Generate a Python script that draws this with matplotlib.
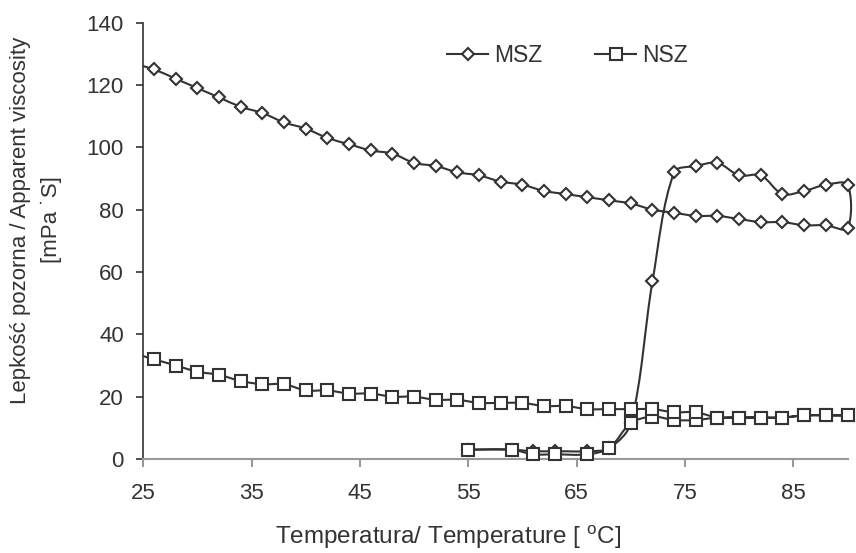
import numpy as np
import matplotlib
matplotlib.use("Agg")
import matplotlib.pyplot as plt
from matplotlib.path import Path
from matplotlib.patches import PathPatch
from matplotlib.lines import Line2D
from matplotlib.transforms import Bbox, TransformedBbox

plt.rcParams['font.family'] = ['Liberation Sans', 'DejaVu Sans']
plt.rcParams['mathtext.fontset'] = 'custom'
plt.rcParams['mathtext.rm'] = 'Liberation Sans'
plt.rcParams['mathtext.it'] = 'Liberation Sans:italic'

# ---- data ----
temp_heat = [55, 59, 61, 63, 66, 68, 70, 72, 74, 76, 78, 80, 82, 84, 86, 88, 90]
msz_heat = [3, 3, 2.5, 2.5, 2.5, 3.5, 11.5, 57, 92, 94, 95, 91, 91, 85, 86, 88, 88]
nsz_heat = [3, 3, 1.5, 1.5, 1.5, 3.5, 11.5, 13.6, 12.5, 12.5, 13.3, 13.3, 13.3, 13.3, 14, 14, 14]

temp_cool = [90, 88, 86, 84, 82, 80, 78, 76, 74, 72, 70, 68, 66, 64, 62, 60, 58,
             56, 54, 52, 50, 48, 46, 44, 42, 40, 38, 36, 34, 32, 30, 28, 26, 24]
msz_cool = [74, 75, 75, 76, 76, 77, 78, 78, 79, 80, 82, 83, 84, 85, 86, 88, 89,
            91, 92, 94, 95, 98, 99, 101, 103, 106, 108, 111, 113, 116, 119, 122, 125, 127]
nsz_cool = [14, 14, 14, 13.3, 13.3, 13.3, 13.3, 15, 15, 16, 16, 16, 16, 17, 17, 18, 18,
            18, 19, 19, 20, 20, 21, 21, 22, 22, 24, 24, 25, 27, 28, 30, 32, 34]

series_names = ['MSZ', 'NSZ']
x_ticks = [25, 35, 45, 55, 65, 75, 85]
y_ticks = [0, 20, 40, 60, 80, 100, 120, 140]

DARK = '#333333'
GRAY = '#999999'


def smooth_path(ax, xs, ys):
    """Excel-like smoothed line: cubic Bezier with chord-length scaled tangents."""
    data_pts = np.column_stack([xs, ys]).astype(float)
    pts = ax.transData.transform(data_pts)
    inv = ax.transData.inverted()
    n = len(pts)
    verts = [data_pts[0]]
    codes = [Path.MOVETO]

    def d(a, b):
        return float(np.hypot(*(b - a)))

    for i in range(n - 1):
        p0 = pts[i - 1] if i > 0 else pts[i]
        p1 = pts[i]
        p2 = pts[i + 1]
        p3 = pts[i + 2] if i + 2 < n else pts[i + 1]
        l01, l12, l23 = d(p0, p1), d(p1, p2), d(p2, p3)
        f1 = l12 / (l01 + l12) / 3.0 if (l01 + l12) > 0 else 0.0
        f2 = l12 / (l12 + l23) / 3.0 if (l12 + l23) > 0 else 0.0
        c1 = p1 + (p2 - p0) * f1
        c2 = p2 - (p3 - p1) * f2
        verts += list(inv.transform(np.array([c1, c2]))) + [data_pts[i + 1]]
        codes += [Path.CURVE4] * 3
    return Path(np.array(verts), codes)


fig = plt.figure(figsize=(8.56, 5.53), dpi=100)
ax = fig.add_axes([143.3 / 856, 1 - 459 / 553, (847.5 - 143.3) / 856, (459 - 22.7) / 553])
ax.set_xlim(25, 90)
ax.set_ylim(0, 140)

clip = TransformedBbox(Bbox([[25, -10], [95, 150]]), ax.transData)

markers = {'MSZ': ('D', 6.6), 'NSZ': ('s', 8.8)}
data = {
    'MSZ': (temp_heat + temp_cool, msz_heat + msz_cool),
    'NSZ': (temp_heat + temp_cool, nsz_heat + nsz_cool),
}

for k, name in enumerate(series_names):
    xs, ys = data[name]
    patch = PathPatch(smooth_path(ax, xs, ys), fill=False, edgecolor=DARK, lw=1.5,
                      zorder=2 + 2 * k)
    ax.add_patch(patch)
    patch.set_clip_box(clip)
    xs_a = np.array(xs)
    ys_a = np.array(ys)
    m = xs_a >= 25
    mk, ms = markers[name]
    ax.plot(xs_a[m], ys_a[m], linestyle='none', marker=mk, ms=ms, mfc='white',
            mec=DARK, mew=1.5, clip_on=False, zorder=3 + 2 * k)

for s in ['top', 'right']:
    ax.spines[s].set_visible(False)
ax.spines['left'].set_color(DARK)
ax.spines['left'].set_linewidth(1.2)
ax.spines['bottom'].set_color(GRAY)
ax.spines['bottom'].set_linewidth(1.5)

ax.set_xticks(x_ticks)
ax.set_yticks(y_ticks)
ax.tick_params(axis='x', colors=GRAY, labelcolor=DARK, length=5.5, width=1.5,
               labelsize=16, pad=12, direction='out')
ax.tick_params(axis='y', colors=DARK, labelcolor=DARK, length=5, width=1.2,
               labelsize=16, pad=9, direction='out')

ax.set_xlabel('Temperatura/ Temperature [ $^{\\mathrm{o}}$C]', fontsize=17.5, color=DARK)
ax.xaxis.set_label_coords((448 - 143.3) / 704.2, (459 - 524) / 436.3)
ax.set_ylabel('Lepkość pozorna / Apparent viscosity\n[mPa ˙S]', fontsize=16, color=DARK,
              va='center', ha='center', linespacing=1.6)
ax.yaxis.set_label_coords((36 - 143.3) / 704.2, (459 - 220) / 436.3)

handles = [Line2D([], [], color=DARK, lw=1.5, marker=markers[n][0], ms=markers[n][1],
                  mfc='white', mec=DARK, mew=1.5) for n in series_names]
leg = fig.legend(handles, series_names, loc='center left',
                 bbox_to_anchor=(447 / 856, 1 - 56 / 553), ncol=2, frameon=False,
                 fontsize=16.5, handlelength=1.8, handletextpad=0.25, columnspacing=2.3,
                 borderpad=0, borderaxespad=0, numpoints=1)
for t in leg.get_texts():
    t.set_color(DARK)

fig.savefig('out.png', dpi=100)
